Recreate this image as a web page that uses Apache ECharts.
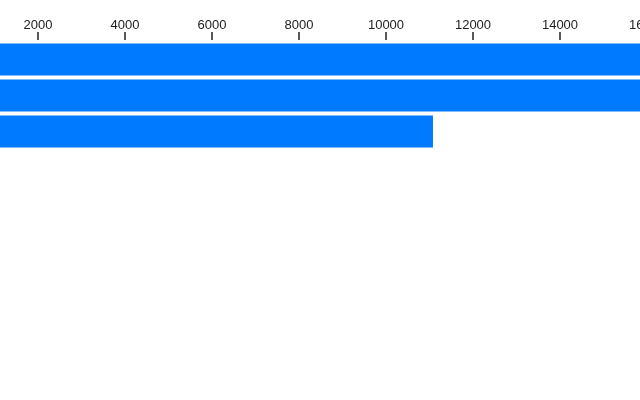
<!DOCTYPE html>
<html>
<head>
<meta charset="utf-8">
<script src="https://cdn.jsdelivr.net/npm/echarts@6/dist/echarts.min.js"></script>
<style>
    html, body { margin: 0; padding: 0; background: #fff; }
    #chart { width: 640px; height: 400px; }
</style>
</head>
<body>
<div id="chart"></div>
<script>
// values (top two run past the right edge)
const categories = ['A', 'B', 'C'];
const values = [18500, 17200, 11080];

const chart = echarts.init(document.getElementById('chart'));

const option = {
    animation: false,
    grid: {
        left: -49,
        top: 41.5,
        width: 870,
        height: 108,
        containLabel: false,
        outerBoundsMode: 'none'
    },
    xAxis: {
        type: 'value',
        position: 'top',
        min: 0,
        max: 20000,
        interval: 2000,
        offset: 1.5,
        axisLine: { show: false },
        axisTick: {
            show: true,
            length: 8,
            lineStyle: { color: '#222', width: 1.5 }
        },
        axisLabel: {
            margin: 8,
            color: '#222',
            fontSize: 13,
            fontFamily: 'Liberation Sans',
            formatter: (v) => String(v)
        },
        splitLine: { show: false }
    },
    yAxis: {
        type: 'category',
        inverse: true,
        data: categories,
        show: false
    },
    series: [
        {
            type: 'bar',
            data: values,
            barWidth: 32,
            itemStyle: { color: '#007bff' }
        }
    ]
};

chart.setOption(option);
</script>
</body>
</html>
